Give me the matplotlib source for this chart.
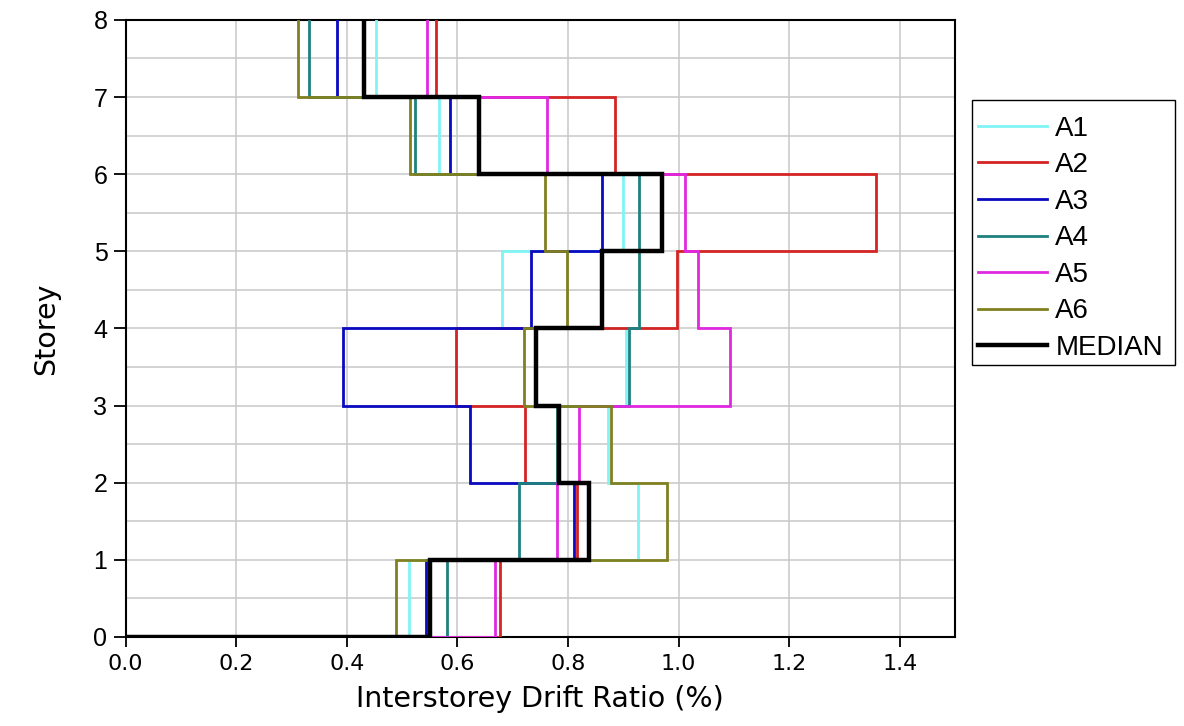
import numpy as np
import matplotlib
matplotlib.use("Agg")
import matplotlib.pyplot as plt
from matplotlib.ticker import MultipleLocator
from matplotlib.patches import Rectangle

storeys = [0, 1, 2, 3, 4, 5, 6, 7, 8]
labels = ["A1", "A2", "A3", "A4", "A5", "A6", "MEDIAN"]

# drift ratio (%) of storeys 1..8
A1 = [0.512, 0.926, 0.872, 0.905, 0.681, 0.900, 0.567, 0.453]
A2 = [0.677, 0.817, 0.723, 0.597, 0.998, 1.357, 0.885, 0.562]
A3 = [0.543, 0.811, 0.623, 0.393, 0.733, 0.862, 0.586, 0.383]
A4 = [0.582, 0.712, 0.781, 0.910, 0.929, 0.928, 0.524, 0.331]
A5 = [0.669, 0.781, 0.820, 1.094, 1.035, 1.012, 0.763, 0.546]
A6 = [0.489, 0.979, 0.878, 0.720, 0.798, 0.759, 0.515, 0.312]
MEDIAN = [0.550, 0.839, 0.784, 0.743, 0.862, 0.970, 0.639, 0.431]

series = [A1, A2, A3, A4, A5, A6, MEDIAN]
colors = ["#80F4F4", "#D42424", "#0A0AC0", "#1E8080", "#E028E0", "#808020", "#000000"]
widths = [2.0, 2.0, 2.0, 2.0, 2.0, 2.0, 3.2]

W, H = 1184, 726
fig = plt.figure(figsize=(W / 100, H / 100), dpi=100)
ax = fig.add_axes([0.106, 0.1226, 0.7006, 0.85])

st = np.array(storeys, dtype=float)
for vals, lab, c, lw in zip(series, labels, colors, widths):
    v = np.array(vals, dtype=float)
    xs = np.concatenate([[0.0], np.repeat(v, 2)])
    ys = np.concatenate([[st[0]], np.column_stack([st[:-1], st[1:]]).ravel()])
    ax.plot(xs, ys, color=c, lw=lw, label=lab, solid_joinstyle="miter", zorder=3)

ax.set_xlim(0, 1.5)
ax.set_ylim(0, 8)
ax.xaxis.set_major_locator(MultipleLocator(0.2))
ax.yaxis.set_major_locator(MultipleLocator(1))
ax.yaxis.set_minor_locator(MultipleLocator(0.5))
ax.grid(True, which="major", color="#C8C8C8", lw=1.1, zorder=0)
ax.grid(True, which="minor", axis="y", color="#C8C8C8", lw=1.1, zorder=0)
ax.set_axisbelow(True)
ax.set_xticklabels([f"{t:.1f}" for t in ax.get_xticks()], fontfamily="DejaVu Sans")
ax.tick_params(axis="x", which="major", direction="out", length=7, width=1.3, labelsize=16, pad=5)
ax.tick_params(axis="y", which="major", direction="out", length=9, width=1.3, labelsize=18, pad=4)
ax.tick_params(axis="y", which="minor", length=0)
for lab in ax.get_yticklabels():
    lab.set_fontfamily("Liberation Sans")
for s in ax.spines.values():
    s.set_linewidth(1.5)
    s.set_color("black")

ax.set_xlabel("Interstorey Drift Ratio (%)", fontsize=20.5, fontfamily="DejaVu Sans", labelpad=8)
ax.set_ylabel("Storey", fontsize=20.5, fontfamily="DejaVu Sans", labelpad=24)

leg = ax.legend(loc="upper left", bbox_to_anchor=(972 / W, 1 - 110 / H),
                bbox_transform=fig.transFigure, frameon=False,
                prop={"family": "Liberation Sans", "size": 20},
                handlelength=2.5, handletextpad=0.3, labelspacing=0.38, borderpad=0.2,
                borderaxespad=0)
# legend frame
fig.patches.append(Rectangle((972 / W, 1 - 365 / H), 203 / W, 265 / H,
                             transform=fig.transFigure, fill=False,
                             edgecolor="black", lw=1.0))

fig.savefig("out.png", dpi=100)
